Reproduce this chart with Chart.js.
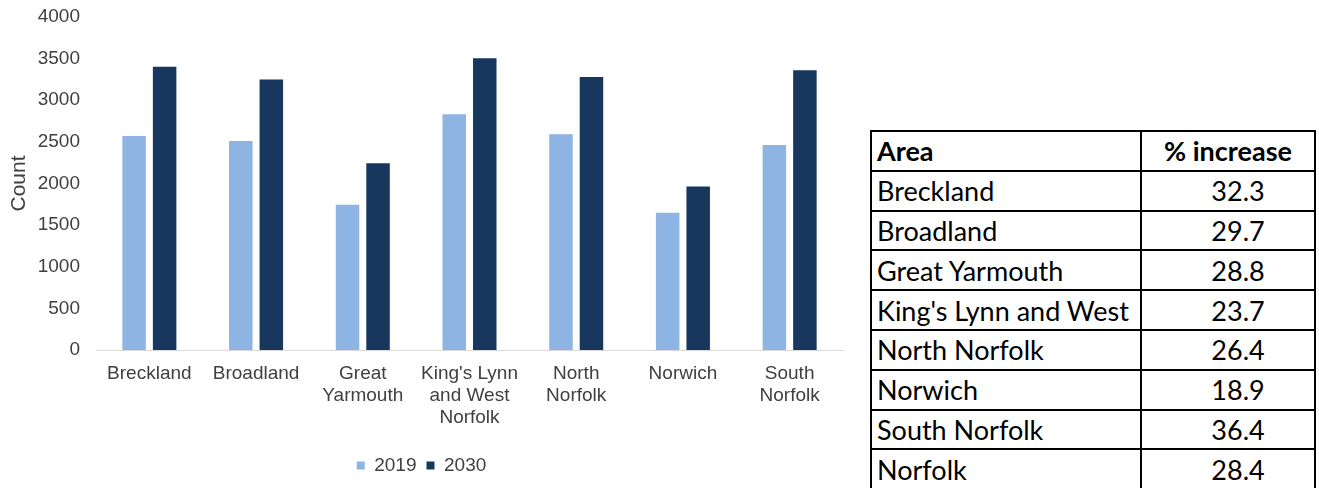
<!DOCTYPE html>
<html>
<head>
<meta charset="utf-8">
<script src="https://cdn.jsdelivr.net/npm/chart.js@4/dist/chart.umd.min.js"></script>
<style>
  html, body { margin: 0; padding: 0; background: #ffffff; }
  body { width: 1319px; height: 488px; position: relative; overflow: hidden; }
  #chartBox { position: absolute; left: 0; top: 0; width: 850px; height: 488px; }
  #tbl { position: absolute; left: 870px; top: 130px; border-collapse: collapse; table-layout: fixed;
         font-family: Lato, "Open Sans", sans-serif; font-size: 27px; color: #000; }
  #tbl td { border: 2px solid #000; height: 37.8px; padding: 0; line-height: 37px; white-space: nowrap; overflow: hidden; }
  #tbl td.c1 { width: 263px; padding-left: 5px; }
  #tbl td.c2 { width: 172px; text-align: center; }
  #tbl td.c2 span.num { position: relative; left: 10px; }
  #tbl tr.head td { font-weight: bold; }
</style>
</head>
<body>
<div id="chartBox"><canvas id="c"></canvas></div>
<table id="tbl"></table>
<script>
// ---- data ----
const categories = ['Breckland', 'Broadland', ['Great', 'Yarmouth'], ["King's Lynn", 'and West', 'Norfolk'], ['North', 'Norfolk'], 'Norwich', ['South', 'Norfolk']];
const seriesNames = ['2019', '2030'];
const values2019 = [2570, 2510, 1745, 2833, 2592, 1650, 2462];
const values2030 = [3403, 3250, 2243, 3504, 3280, 1965, 3360];
const yMin = 0;
const yMax = 4000;
const yStep = 500;
const yTitle = 'Count';

const tableHeader = ['Area', '% increase'];
const tableAreas = ['Breckland', 'Broadland', 'Great Yarmouth', "King's Lynn and West", 'North Norfolk', 'Norwich', 'South Norfolk', 'Norfolk'];
const tableIncrease = ['32.3', '29.7', '28.8', '23.7', '26.4', '18.9', '36.4', '28.4'];

// ---- table ----
const tbl = document.getElementById('tbl');
(function buildTable() {
  const hr = document.createElement('tr');
  hr.className = 'head';
  const h1 = document.createElement('td'); h1.className = 'c1'; h1.textContent = tableHeader[0];
  const h2 = document.createElement('td'); h2.className = 'c2'; h2.textContent = tableHeader[1];
  hr.appendChild(h1); hr.appendChild(h2); tbl.appendChild(hr);
  tableAreas.forEach((a, i) => {
    const tr = document.createElement('tr');
    const d1 = document.createElement('td'); d1.className = 'c1'; d1.textContent = a;
    const d2 = document.createElement('td'); d2.className = 'c2';
    const sp = document.createElement('span'); sp.className = 'num'; sp.textContent = tableIncrease[i];
    d2.appendChild(sp);
    tr.appendChild(d1); tr.appendChild(d2); tbl.appendChild(tr);
  });
})();

// ---- chart ----
const FONT = '"Liberation Sans", Arial, sans-serif';
new Chart(document.getElementById('c'), {
  type: 'bar',
  data: {
    labels: categories,
    datasets: [
      { label: seriesNames[0], data: values2019, backgroundColor: '#8DB4E2', categoryPercentage: 0.572, barPercentage: 0.77 },
      { label: seriesNames[1], data: values2030, backgroundColor: '#17375E', categoryPercentage: 0.572, barPercentage: 0.77 }
    ]
  },
  options: {
    responsive: true,
    maintainAspectRatio: false,
    animation: false,
    layout: { padding: { top: 17, right: 7, left: 0, bottom: 3 } },
    plugins: {
      tooltip: { enabled: false },
      legend: {
        position: 'bottom',
        labels: {
          boxWidth: 8, boxHeight: 8, padding: 10,
          color: '#404040',
          font: { family: FONT, size: 19 }
        }
      }
    },
    scales: {
      x: {
        grid: { display: false, drawTicks: false },
        border: { display: true, color: '#D9D9D9', width: 1 },
        ticks: {
          color: '#404040', padding: 13, maxRotation: 0, autoSkip: false,
          font: { family: FONT, size: 19, lineHeight: 1.16 }
        },
        afterFit: (s) => { s.height = 96; }
      },
      y: {
        min: yMin, max: yMax,
        grid: { display: false, drawTicks: false },
        border: { display: false },
        ticks: {
          stepSize: yStep, color: '#404040', padding: 16,
          font: { family: FONT, size: 19 },
          callback: (v) => String(v)
        },
        title: {
          display: true, text: yTitle, color: '#404040',
          font: { family: FONT, size: 21 },
          padding: { top: 7, bottom: 0 }
        },
        afterFit: (s) => { s.width = 96; s.paddingTop = 10; s.paddingBottom = 10; }
      }
    }
  }
});
</script>
</body>
</html>
